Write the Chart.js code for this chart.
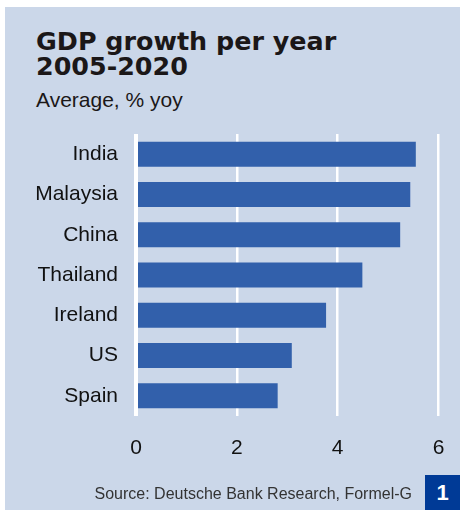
<!DOCTYPE html>
<html>
<head>
<meta charset="utf-8">
<script src="https://cdn.jsdelivr.net/npm/chart.js@4.4.0/dist/chart.umd.min.js"></script>
<style>
  html, body { margin: 0; padding: 0; background: #fff; }
  #wrap { position: relative; width: 460px; height: 510px; overflow: hidden; }
  #panel { position: absolute; left: 5px; top: 7px; width: 455px; height: 503px; background: #cbd7e9; }
  .title { position: absolute; left: 36px; font-family: "DejaVu Sans", sans-serif; font-weight: bold;
           font-size: 25.4px; line-height: 25px; color: #1b1718; white-space: nowrap; }
  #sub { position: absolute; left: 36px; top: 89px; font-family: "Liberation Sans", Arial, sans-serif;
         font-size: 21px; line-height: 21px; color: #1b1718; white-space: nowrap; }
  #source { position: absolute; right: 48px; top: 485px; font-family: "Liberation Sans", Arial, sans-serif;
            font-size: 16px; line-height: 18px; color: #333; white-space: nowrap; }
  #badge { position: absolute; left: 425px; top: 475px; width: 35px; height: 35px; background: #003a96;
           color: #fff; font-family: "Liberation Sans", Arial, sans-serif; font-weight: bold; font-size: 22px;
           line-height: 35px; text-align: center; }
  #chart { position: absolute; left: 0; top: 0; }
</style>
</head>
<body>
<div id="wrap">
  <div id="panel"></div>
  <div class="title" style="top:29px">GDP growth per year</div>
  <div class="title" style="top:54px">2005-2020</div>
  <div id="sub">Average, % yoy</div>
  <canvas id="chart" width="460" height="510"></canvas>
  <div id="source">Source: Deutsche Bank Research, Formel-G</div>
  <div id="badge">1</div>
</div>
<script>
const countries = ['India', 'Malaysia', 'China', 'Thailand', 'Ireland', 'US', 'Spain'];
const growth = [5.55, 5.44, 5.24, 4.49, 3.77, 3.09, 2.81];
const xTicks = [0, 2, 4, 6];

const labelFont = { family: '"Liberation Sans", Arial, sans-serif', size: 21 };

const ctx = document.getElementById('chart').getContext('2d');
const gdpChart = new Chart(ctx, {
    type: 'bar',
    data: {
        labels: countries,
        datasets: [{
            label: 'GDP growth',
            data: growth,
            backgroundColor: '#3260ab',
            borderWidth: 0,
            barPercentage: 0.62,
            categoryPercentage: 1.0
        }]
    },
    options: {
        indexAxis: 'y',
        responsive: false,
        animation: false,
        layout: { padding: { top: 134, right: 21.5, bottom: 0, left: 0 } },
        plugins: {
            legend: { display: false },
            tooltip: { enabled: false }
        },
        scales: {
            x: {
                min: xTicks[0],
                max: xTicks[xTicks.length - 1],
                afterBuildTicks: function (scale) {
                    scale.ticks = xTicks.map(v => ({ value: v }));
                },
                afterFit: function (scale) {
                    scale.height = 94;
                    // tick padding otherwise pushes the plot edges inward
                    scale.paddingLeft = 0;
                    scale.paddingRight = 0;
                },
                ticks: { font: labelFont, color: '#111', padding: 20 },
                grid: {
                    color: '#ffffff',
                    lineWidth: c => (c.tick && c.tick.value === 0 ? 4 : 2.5),
                    drawTicks: false
                },
                border: { display: false }
            },
            y: {
                afterFit: function (scale) { scale.width = 136; },
                ticks: { font: labelFont, color: '#111', padding: 10 },
                grid: { display: false },
                border: { display: false }
            }
        }
    }
});
</script>
</body>
</html>
